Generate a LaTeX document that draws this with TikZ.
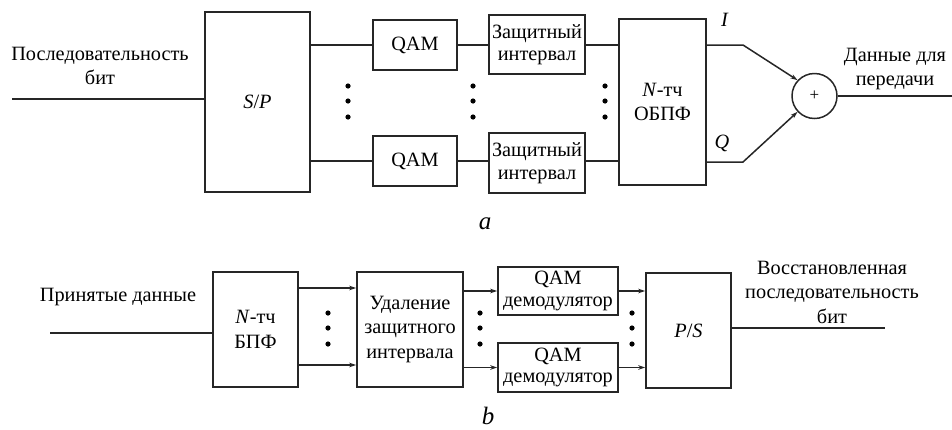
\documentclass[tikz,border=0pt]{standalone}
\usepackage{fontspec}
\setmainfont{Liberation Serif}
\usepackage{tikz}
\usetikzlibrary{arrows.meta}
\pgfkeys{tikz/blockbox/.style={draw=black!85, 
                                   line width=1.5pt, 
                                   inner sep=0pt, 
                                   align=center}}
\pgfkeys{tikz/wire/.style={draw=black!85, 
                               line width=1.5pt}}
\pgfkeys{tikz/sig/.style={wire, 
                              -{Stealth[length=7pt,width=4.5pt]}}}
\pgfkeys{tikz/captext/.style={font=\fontsize{25}{25}\selectfont\itshape}}

\begin{document}
\begin{tikzpicture}[x=1pt, y=-1pt, font=\fontsize{20.3}{24.5}\selectfont]
                \useasboundingbox (0,0) rectangle (952,429);

                \node[blockbox, minimum width=105pt, minimum height=180pt] (sp) at (257.5, 102) {\textit{S}/\textit{P}};
                \node[blockbox, minimum width=84pt, minimum height=50pt] (qam1) at (415, 45) {QAM};
                \node[blockbox, minimum width=84pt, minimum height=50pt] (qam2) at (415, 161) {QAM};
                \node[blockbox, minimum width=96pt, minimum height=59pt] (gi1) at (537, 44.5) {Защитный\\[-2pt]интервал};
                \node[blockbox, minimum width=96pt, minimum height=60pt] (gi2) at (537, 163) {Защитный\\[-2pt]интервал};
                \node[blockbox, minimum width=87pt, minimum height=166pt] (ifft) at (662.5, 102) {\textit{N}-тч\\ОБПФ};
                \node[blockbox, circle, minimum size=45pt] (sum) at (814.5, 96) {\fontsize{17}{17}\selectfont +};

                \node[align=center] (txin) at (100, 66) {Последовательность\\бит};
                \node[align=center] (txout) at (895, 69) {Данные для\\передачи};
                \node (ilab) at (725, 20) {\textit{I}};
                \node (qlab) at (722, 143) {\textit{Q}};
                \node[captext] (capa) at (485, 224) {a};

                \coordinate (in1) at (12, 99);
                \coordinate (ibend) at (743, 45);
                \coordinate (qbend) at (743, 162);
                \coordinate (out1) at (952, 96);

                \draw[wire] (in1) -- (sp.west |- in1);
                \draw[wire] (sp.east |- qam1.west) -- (qam1.west);
                \draw[wire] (sp.east |- qam2.west) -- (qam2.west);
                \draw[wire] (qam1.east) -- (gi1.west |- qam1.east);
                \draw[wire] (qam2.east) -- (gi2.west |- qam2.east);
                \draw[wire] (gi1.east |- qam1.east) -- (ifft.west |- qam1.east);
                \draw[wire] (gi2.east |- qam2.east) -- (ifft.west |- qam2.east);
                \draw[sig] (ifft.east |- ibend) -- (ibend) -- (sum.137);
                \draw[sig] (ifft.east |- qbend) -- (qbend) -- (sum.223);
                \draw[wire] (sum.east) -- (out1);

                \foreach \x in {348, 473, 605}
                    \foreach \y in {86, 101, 117}
                        \fill[black] (\x, \y) circle (2.6pt);

                \node[blockbox, minimum width=85pt, minimum height=115pt] (fft) at (255.5, 329.5) {\textit{N}-тч\\БПФ};
                \node[blockbox, minimum width=106pt, minimum height=115pt] (rem) at (410, 329.5) {Удаление\\защитного\\интервала};
                \node[blockbox, minimum width=120pt, minimum height=48pt] (dem1) at (558, 291) {QAM\\[-3pt]демодулятор};
                \node[blockbox, minimum width=120pt, minimum height=49pt] (dem2) at (558, 367.5) {QAM\\[-3pt]демодулятор};
                \node[blockbox, minimum width=85pt, minimum height=115pt] (ps) at (688.5, 330.5) {\textit{P}/\textit{S}};

                \node (txrx) at (118, 297) {Принятые данные};
                \node[align=center] (txrec) at (832, 292) {Восстановленная\\последовательность\\бит};
                \node[captext] (capb) at (488, 416) {b};

                \coordinate (in2) at (50, 333);
                \coordinate (out2) at (885, 328);

                \draw[wire] (in2) -- (fft.west |- in2);
                \draw[sig] ([yshift=41.5pt]fft.east) -- ([yshift=41.5pt]rem.west);
                \draw[sig] ([yshift=-35.5pt]fft.east) -- ([yshift=-35.5pt]rem.west);
                \draw[sig] (rem.east |- dem1.west) -- (dem1.west);
                \draw[sig] (rem.east |- dem2.west) -- (dem2.west);
                \draw[sig] (dem1.east) -- (ps.west |- dem1.east);
                \draw[sig] (dem2.east) -- (ps.west |- dem2.east);
                \draw[wire] (ps.east |- out2) -- (out2);

                \foreach \x in {328, 480, 632}
                    \foreach \y in {313, 328, 344}
                        \fill[black] (\x, \y) circle (2.6pt);

            \end{tikzpicture}
\end{document}
